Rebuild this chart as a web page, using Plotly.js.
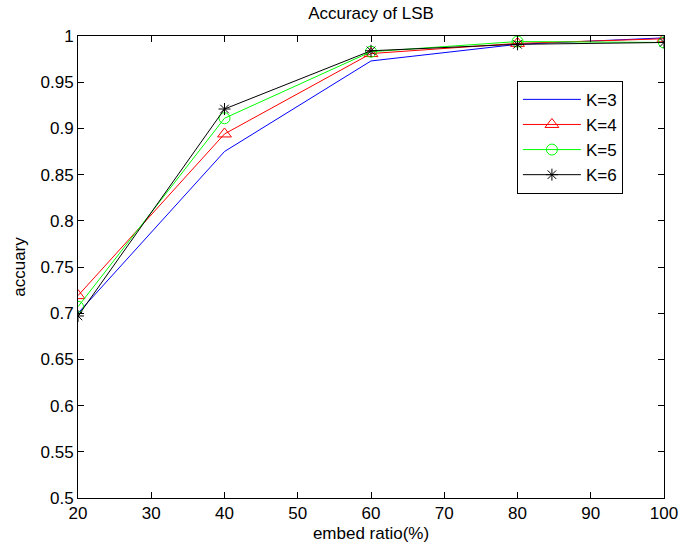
<!DOCTYPE html>
<html>
<head>
<meta charset="utf-8">
<script src="https://cdn.plot.ly/plotly-3.0.1.min.js"></script>
<style>html,body{margin:0;padding:0;background:#fff;}#chart{width:680px;height:550px;}</style>
</head>
<body>
<div id="chart"></div>
<script>
const embedRatio = [20, 40, 60, 80, 100];
const k3 = [0.700, 0.875, 0.973, 0.991, 0.998];
const k4 = [0.719, 0.894, 0.981, 0.992, 0.997];
const k5 = [0.707, 0.911, 0.983, 0.994, 0.993];
const k6 = [0.697, 0.921, 0.984, 0.991, 0.993];
const seriesNames = ["K=3", "K=4", "K=5", "K=6"];
const xTicks = [20, 30, 40, 50, 60, 70, 80, 90, 100];
const yTicks = [0.5, 0.55, 0.6, 0.65, 0.7, 0.75, 0.8, 0.85, 0.9, 0.95, 1];

const font = "Liberation Sans, Arial, sans-serif";
const traces = [
  {x: embedRatio, y: k3, name: seriesNames[0], mode: "lines",
   line: {color: "#0000ff", width: 1}},
  {x: embedRatio, y: k4, name: seriesNames[1], mode: "lines+markers",
   line: {color: "#ff0000", width: 1},
   marker: {symbol: "triangle-up-open", size: 12, color: "#ff0000", line: {width: 1}}},
  {x: embedRatio, y: k5, name: seriesNames[2], mode: "lines+markers",
   line: {color: "#00ff00", width: 1},
   marker: {symbol: "circle-open", size: 11, color: "#00ff00", line: {width: 1}}},
  {x: embedRatio, y: k6, name: seriesNames[3], mode: "lines+markers",
   line: {color: "#000000", width: 1},
   marker: {symbol: "asterisk-open", size: 10, color: "#000000", line: {width: 1}}}
];

const axisCommon = {
  showline: true, linecolor: "#000", linewidth: 1, mirror: "allticks",
  ticks: "inside", ticklen: 6, tickcolor: "#000", showgrid: false, zeroline: false,
  tickfont: {family: font, size: 17, color: "#000"}
};

const layout = {
  width: 680, height: 550,
  margin: {l: 78, r: 16, t: 36, b: 52},
  paper_bgcolor: "#fff", plot_bgcolor: "#fff",
  title: {text: "Accuracy of LSB", font: {family: font, size: 17, color: "#000"},
          x: 0.5, xref: "paper", xanchor: "center", y: 0.988, yanchor: "top"},
  xaxis: Object.assign({}, axisCommon, {
    range: [20, 100], tickvals: xTicks, ticktext: xTicks.map(String),
    title: {text: "embed ratio(%)", font: {family: font, size: 17, color: "#000"}, standoff: 4}
  }),
  yaxis: Object.assign({}, axisCommon, {
    range: [0.5, 1], tickvals: yTicks, ticktext: yTicks.map(String),
    title: {text: "accuary", font: {family: font, size: 17, color: "#000"}, standoff: 10}
  }),
  showlegend: true,
  legend: {
    x: 0.749, y: 0.903, xanchor: "left", yanchor: "top",
    bgcolor: "#fff", bordercolor: "#000", borderwidth: 1,
    font: {family: font, size: 17, color: "#000"},
    itemwidth: 58, tracegroupgap: 0
  }
};

Plotly.newPlot("chart", traces, layout, {displayModeBar: false, staticPlot: true});
</script>
</body>
</html>
